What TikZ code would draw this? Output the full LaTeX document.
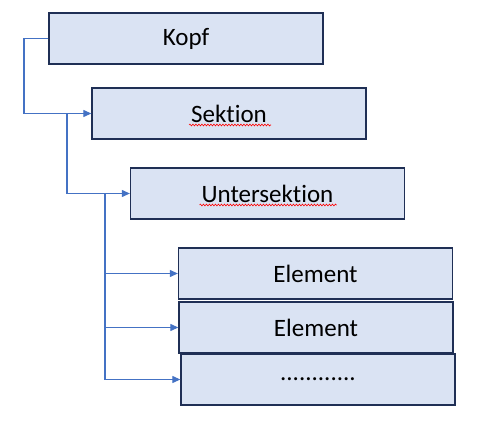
\documentclass[tikz,border=0pt]{standalone}
\usepackage{fontspec}
\setmainfont[Ligatures={NoCommon}]{Carlito}
\usetikzlibrary{arrows.meta,calc,decorations.pathmorphing}
\definecolor{boxfill}{HTML}{DAE3F3}
\definecolor{boxline}{HTML}{1F2F55}
\definecolor{conn}{HTML}{4472C4}
\tikzset{
  box/.style={draw=boxline, fill=boxfill, line width=1.3pt, minimum width=274pt, minimum height=51pt, inner sep=0pt, font=\fontsize{25}{28}\selectfont},
  link/.style={draw=conn, line width=1.1pt, -{Triangle[length=8pt,width=7pt]}},
  squig/.style={draw=red, line width=0.6pt, decorate, decoration={snake, segment length=3pt, amplitude=0.9pt}}
}
\begin{document}
\begin{tikzpicture}[x=1pt,y=-1pt]
\useasboundingbox (0,0) rectangle (480,422);
\node[box] (kopf) at (186,38.5) {Kopf};
\node[box] (sek) at (229,113.5) {Sektion};
\node[box] (unt) at (267.5,193.5) {Untersektion};
\node[box] (e1) at (315.5,273.5) {Element};
\node[box] (e2) at (316,327.5) {Element};
\node[box] (e3) at (318,379.5) {............};
\coordinate (k1) at (24,38.5);
\coordinate (c1) at (67,113.5);
\coordinate (c2) at (105,193.5);
\draw[link] (kopf.west) -- (k1) |- (sek.west);
\draw[link] (c1) |- (unt.west);
\draw[link] (c2) |- (e1.west);
\draw[link] (c2) |- (e2.west);
\draw[link] (c2) |- (e3.west);
\draw[squig] ($(sek.center)+(-40,11.5)$) -- ($(sek.center)+(42,11.5)$);
\draw[squig] ($(unt.center)+(-68,11.5)$) -- ($(unt.center)+(69,11.5)$);
\end{tikzpicture}
\end{document}
